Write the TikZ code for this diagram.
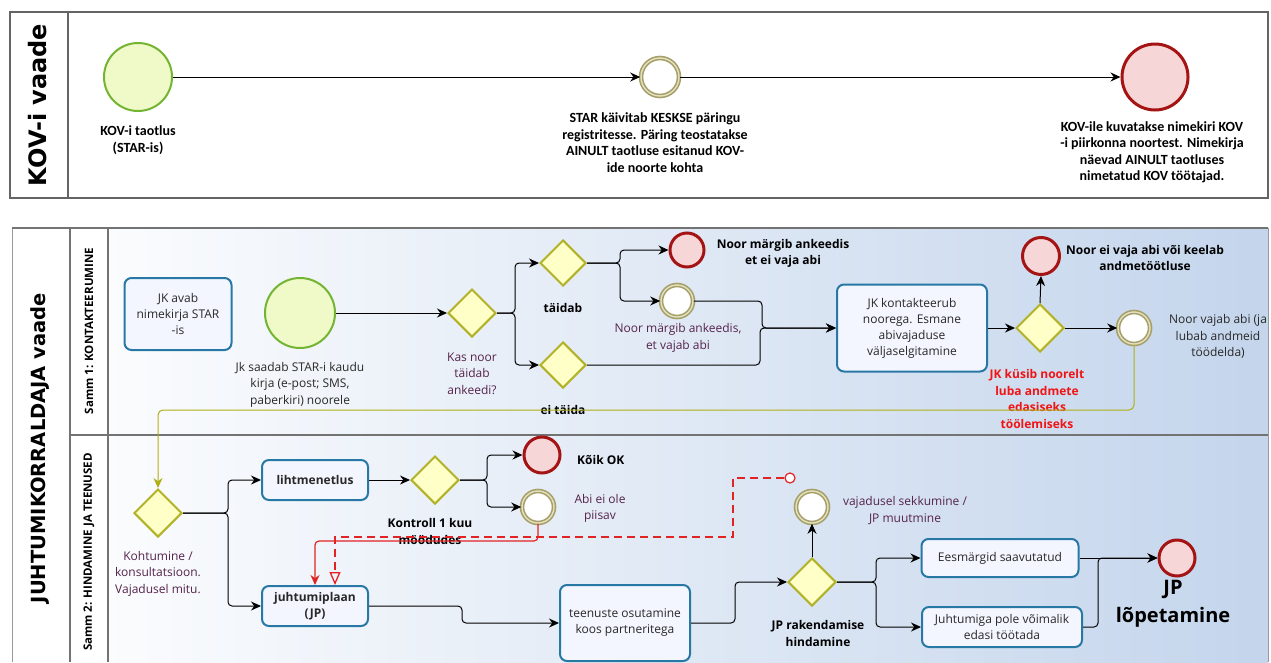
\documentclass[tikz,border=0pt]{standalone}
\usepackage{fontspec}
\setmainfont{Open Sans}
\newfontfamily\carl{Carlito}
\newfontfamily\dvs{DejaVu Sans}
\usetikzlibrary{shapes.geometric,arrows.meta,calc}
\definecolor{taskbd}{RGB}{40,120,165}
\definecolor{taskfill}{RGB}{244,246,255}
\definecolor{gwbd}{RGB}{178,178,40}
\definecolor{gwfill}{RGB}{255,255,200}
\definecolor{stbd}{RGB}{115,180,50}
\definecolor{stfill}{RGB}{240,250,200}
\definecolor{endbd}{RGB}{165,20,20}
\definecolor{endfill}{RGB}{246,214,214}
\definecolor{intbd}{RGB}{165,160,105}
\definecolor{intin}{RGB}{228,224,190}
\definecolor{olivel}{RGB}{175,175,20}
\definecolor{msgred}{RGB}{225,35,35}
\definecolor{lblc}{RGB}{85,35,75}
\definecolor{txtc}{RGB}{40,40,40}
\definecolor{poolbd}{RGB}{100,100,100}
\definecolor{lanebg}{RGB}{196,213,236}
\definecolor{redtxt}{RGB}{240,20,20}
\begin{document}
\begin{tikzpicture}[x=1pt,y=-1pt,
  taskbox/.style={draw=taskbd, line width=2pt, rounded corners=7pt, fill=taskfill, inner sep=1pt, align=center, text=txtc, font=\fontsize{12}{16}\selectfont},
  gw/.style={diamond, draw=gwbd, line width=2pt, fill=gwfill, minimum width=48pt, minimum height=48pt, inner sep=0pt, aspect=1},
  startev/.style={circle, draw=stbd, line width=2pt, fill=stfill, inner sep=0pt},
  endev/.style={circle, draw=endbd, line width=3pt, fill=endfill, inner sep=0pt},
  interev/.style={circle, draw=intbd, line width=1.6pt, double=intin, double distance=1.4pt, fill=white, inner sep=0pt},
  flow/.style={draw=black, line width=1pt, rounded corners=4pt, -{Stealth[length=10pt,width=9pt]}},
  redflow/.style={draw=msgred, color=msgred, line width=1.2pt, rounded corners=4pt, -{Stealth[length=10pt,width=9pt]}},
  oliveflow/.style={draw=olivel, color=olivel, line width=1pt, rounded corners=5pt, -{Stealth[length=10pt,width=9pt]}},
  msg/.style={msgred, line width=1.3pt, dash pattern=on 8pt off 5pt, -{Triangle[open,length=13pt,width=11pt]}},
  lbl/.style={align=center, text=lblc, inner sep=0pt, font=\fontsize{12}{16.5}\selectfont},
  blbl/.style={align=center, text=black, inner sep=0pt, font=\bfseries\fontsize{12}{16.5}\selectfont},
  toplbl/.style={align=center, text=black, inner sep=0pt, font=\carl\bfseries\fontsize{14}{16.5}\selectfont},
  lanelbl/.style={rotate=90, text=black, inner sep=0pt, font=\bfseries\fontsize{11.5}{13}\selectfont}
]
\useasboundingbox (0,0) rectangle (1271,662);
\fill[white] (0,0) rectangle (1271,662);

% ---------------- top pool ----------------
\draw[poolbd, line width=1.5pt] (10,12) rectangle (1268,198);
\draw[poolbd, line width=1.2pt] (68,12) -- (68,198);
\node[rotate=90, font=\dvs\bfseries\fontsize{24}{28}\selectfont] (kovt) at (38,105) {KOV-i vaade};

\node[startev, minimum size=68pt] (s0) at (138,77) {};
\node[interev, minimum size=38pt] (i0) at (660,77) {};
\node[endev, minimum size=66pt] (e0) at (1155,77) {};
\node[toplbl] (ls0) at (138,140) {KOV-i taotlus\\(STAR-is)};
\node[toplbl] (li0) at (655,142.5) {STAR käivitab KESKSE päringu\\registritesse. Päring teostatakse\\AINULT taotluse esitanud KOV-\\ide noorte kohta};
\node[toplbl] (le0) at (1152,152.5) {KOV-ile kuvatakse nimekiri KOV\\-i piirkonna noortest. Nimekirja\\näevad AINULT taotluses\\nimetatud KOV töötajad.};
\draw[flow] (s0) -- (i0);
\draw[flow] (i0) -- (e0);

% ---------------- bottom pool ----------------
\shade[left color=white, right color=lanebg] (12,228) rectangle (1268,662);
\fill[white] (12,228) rectangle (108,662);
\draw[gray!80, line width=1pt] (12,662) -- (12,228) -- (1268,228) -- (1268,662);
\draw[gray!90!black, line width=1.2pt] (70,228) -- (70,662);
\draw[gray!90!black, line width=1.2pt] (108,228) -- (108,662);
\draw[gray!90!black, line width=1.8pt] (70,435) -- (1268,435);
\draw[gray!90!black, line width=1.8pt] (12,228) -- (1268,228);
\node[rotate=90, font=\dvs\bfseries\fontsize{19.5}{24}\selectfont] (jkt) at (40,448) {JUHTUMIKORRALDAJA vaade};
\node[lanelbl] (lane1) at (89,331) {Samm 1: KONTAKTEERUMINE};
\node[lanelbl] (lane2) at (89,552) {Samm 2: HINDAMINE JA TEENUSED};

% lane 1
\node[taskbox, minimum width=107pt, minimum height=72pt] (t1) at (178,314) {JK avab\\nimekirja STAR\\-is};
\node[startev, minimum size=70pt] (s1) at (300,313) {};
\node[lbl, text=txtc] (ls1) at (300,384.5) {Jk saadab STAR-i kaudu\\kirja (e-post; SMS,\\paberkiri) noorele};
\node[gw] (g1) at (472,313) {};
\node[lbl] (lg1) at (472,373.5) {Kas noor\\täidab\\ankeedi?};
\node[gw, minimum width=46pt, minimum height=46pt] (g2) at (563,263) {};
\node[blbl] (lg2) at (563,308) {täidab};
\node[gw, minimum width=46pt, minimum height=46pt] (g3) at (563,365) {};
\node[blbl] (lg3) at (563,410) {ei täida};
\node[endev, minimum size=34pt] (e1) at (687,250) {};
\node[blbl] (le1) at (783,253.5) {Noor märgib ankeedis\\et ei vaja abi};
\node[interev, minimum size=32pt] (i1) at (677,301) {};
\node[lbl] (li1) at (678,338) {Noor märgib ankeedis,\\et vajab abi};
\node[taskbox, minimum width=150pt, minimum height=87pt] (t2) at (912,328) {JK kontakteerub\\noorega. Esmane\\abivajaduse\\väljaselgitamine};
\node[gw] (g4) at (1040,328) {};
\node[blbl, text=redtxt] (lg4) at (1037,399) {JK küsib noorelt\\luba andmete\\edasiseks\\töölemiseks};
\node[endev, minimum size=37pt] (e2) at (1041,256) {};
\node[blbl] (le2) at (1145,258) {Noor ei vaja abi või keelab\\andmetöötluse};
\node[interev, minimum size=32pt] (i2) at (1134,328) {};
\node[lbl, text=txtc] (li2) at (1218,336.5) {Noor vajab abi (ja\\lubab andmeid\\töödelda)};

\draw[flow] (s1) -- (g1);
\draw[flow] (g1.east) -- (515,313) |- (g2.west);
\draw[flow] (g1.east) -- (515,313) |- (g3.west);
\draw[flow] (g2.east) -- (620,263) |- (e1.west);
\draw[flow] (g2.east) -- (620,263) |- (i1.west);
\draw[flow] (i1.east) -- (762,301) |- (t2.west);
\draw[flow] (g3.east) -- (760,365) |- (t2.west);
\draw[flow] (t2) -- (g4);
\draw[flow] (g4.north) -- (e2.south);
\draw[flow] (g4.east) -- (i2.west);

% lane 2
\node[gw] (g5) at (158,513) {};
\node[lbl] (lg5) at (158,573.5) {Kohtumine /\\konsultatsioon.\\Vajadusel mitu.};
\node[taskbox, minimum width=106pt, minimum height=40pt, font=\bfseries\fontsize{12}{16}\selectfont] (t3) at (315,480) {lihtmenetlus};
\node[taskbox, minimum width=106pt, minimum height=40pt, font=\bfseries\fontsize{12}{16}\selectfont] (t4) at (315,606) {juhtumiplaan\\(JP)};
\node[gw] (g6) at (435,480) {};
\node[blbl] (lg6) at (430,531.5) {Kontroll 1 kuu\\möödudes};
\node[endev, minimum size=36pt] (e3) at (542,455) {};
\node[blbl, anchor=west] (le3) at (577,460) {Kõik OK};
\node[interev, minimum size=32pt] (i3) at (538,507) {};
\node[lbl] (li3) at (600,508.5) {Abi ei ole\\piisav};
\node[taskbox, minimum width=130pt, minimum height=76pt] (t5) at (625,623) {teenuste osutamine\\koos partneritega};
\node[gw] (g7) at (812,582) {};
\node[blbl] (lg7) at (818,633.5) {JP rakendamise\\hindamine};
\node[interev, minimum size=32pt] (i4) at (812,507) {};
\node[lbl] (li4) at (905,510.5) {vajadusel sekkumine /\\JP muutmine};
\node[taskbox, minimum width=157pt, minimum height=38pt] (t6) at (1000,558) {Eesmärgid saavutatud};
\node[taskbox, minimum width=160pt, minimum height=40pt] (t7) at (1002,627) {Juhtumiga pole võimalik\\edasi töötada};
\node[endev, minimum size=36pt] (e4) at (1177,558) {};
\node[align=center, inner sep=0pt, font=\bfseries\fontsize{20}{28}\selectfont] (le4) at (1173,604) {JP\\lõpetamine};
\node[circle, draw=msgred, fill=white, line width=1.2pt, minimum size=10pt, inner sep=0pt] (ms) at (790,478) {};

\draw[oliveflow] (i2.south) -- (1134,410) -- (158,410) -- (g5.north);
\draw[flow] (g5.east) -- (228,513) |- (t3.west);
\draw[flow] (g5.east) -- (228,513) |- (t4.west);
\draw[flow] (t3) -- (g6);
\draw[flow] (g6.east) -- (487,480) |- (e3.west);
\draw[flow] (g6.east) -- (487,480) |- (i3.west);
\draw[redflow] (i3.south) -- (538,541) -- (315,541) -- (t4.north);
\draw[msg] (ms.west) -- (733,478) -- (733,537) -- (335,537) -- ($(t4.north)+(20,0)$);
\draw[flow] (t4.east) -- (462,606) |- (t5.west);
\draw[flow] (t5.east) -- (735,623) |- (g7.west);
\draw[flow] (g7.north) -- (i4.south);
\draw[flow] (g7.east) -- (876,582) |- (t6.west);
\draw[flow] (g7.east) -- (876,582) |- (t7.west);
\draw[flow] (t6.east) -- (e4.west);
\draw[flow] (t7.east) -- (1098,627) |- (e4.west);
\end{tikzpicture}
\end{document}
